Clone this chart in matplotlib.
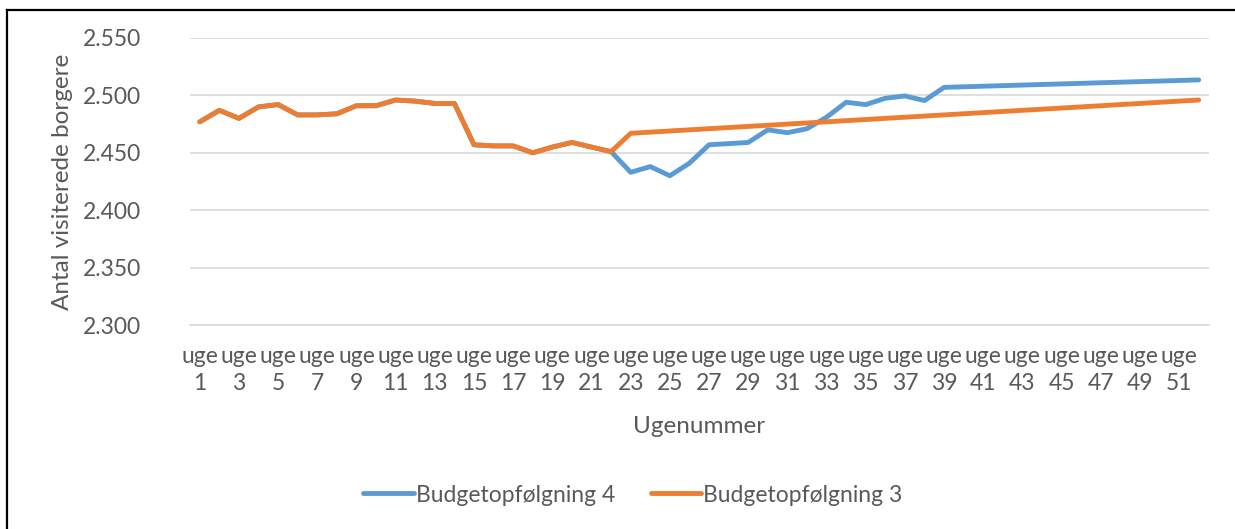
import matplotlib
matplotlib.use("Agg")
import matplotlib.pyplot as plt
from matplotlib.lines import Line2D

weeks = list(range(1, 53))

# Budgetopfølgning 3 (orange)
budget3 = [2.477, 2.487, 2.480, 2.490, 2.492, 2.483, 2.483, 2.484, 2.491, 2.491,
           2.496, 2.495, 2.493, 2.493, 2.457, 2.456, 2.456, 2.450, 2.455, 2.459,
           2.455, 2.451, 2.467, 2.468, 2.469, 2.470, 2.471, 2.472, 2.473, 2.474,
           2.475, 2.476, 2.477, 2.478, 2.479, 2.480, 2.481, 2.482, 2.483, 2.484,
           2.485, 2.486, 2.487, 2.488, 2.489, 2.490, 2.491, 2.492, 2.493, 2.494,
           2.495, 2.496]

# Budgetopfølgning 4 (blue)
budget4 = [2.477, 2.487, 2.480, 2.490, 2.492, 2.483, 2.483, 2.484, 2.491, 2.491,
           2.496, 2.495, 2.493, 2.493, 2.457, 2.456, 2.456, 2.450, 2.455, 2.459,
           2.455, 2.451, 2.433, 2.438, 2.430, 2.441, 2.457, 2.458, 2.459, 2.470,
           2.4675, 2.471, 2.481, 2.494, 2.492, 2.4975, 2.4995, 2.4955, 2.507, 2.5075,
           2.508, 2.5085, 2.509, 2.5095, 2.510, 2.5105, 2.511, 2.5115, 2.512, 2.5125,
           2.513, 2.5135]

tick_weeks = list(range(1, 53, 2))
tick_labels = [f"uge\n{w}" for w in tick_weeks]
y_ticks = [2.300, 2.350, 2.400, 2.450, 2.500, 2.550]
y_tick_labels = ["2.300", "2.350", "2.400", "2.450", "2.500", "2.550"]

plt.rcParams['font.family'] = ['Lato', 'DejaVu Sans']
text_color = "#595959"
blue = "#5B9BD5"
orange = "#ED7D31"

fig = plt.figure(figsize=(12.35, 5.29), dpi=100)
ax = fig.add_axes([190 / 1235, 1 - 325 / 529, (1208.5 - 190) / 1235, (325 - 38) / 529])

ax.plot(weeks, budget4, color=blue, lw=3.5, solid_capstyle='round', solid_joinstyle='round',
        label="Budgetopfølgning 4", zorder=3)
ax.plot(weeks, budget3, color=orange, lw=3.5, solid_capstyle='round', solid_joinstyle='round',
        label="Budgetopfølgning 3", zorder=4)

ax.set_xlim(0.5, 52.5)
ax.set_ylim(2.300, 2.550)
ax.set_yticks(y_ticks)
ax.set_yticklabels(y_tick_labels)
ax.set_xticks(tick_weeks)
ax.set_xticklabels(tick_labels, linespacing=1.35)
ax.grid(axis='y', color="#D9D9D9", lw=1.2)
ax.set_axisbelow(True)
for s in ["top", "right", "left"]:
    ax.spines[s].set_visible(False)
ax.spines["bottom"].set_color("#D9D9D9")
ax.spines["bottom"].set_linewidth(1.2)
ax.tick_params(axis='both', length=0, colors=text_color, labelsize=16.5)
ax.tick_params(axis='y', pad=35)
ax.tick_params(axis='x', pad=15)

ax.set_ylabel("Antal visiterede borgere", fontsize=17.5, color=text_color, labelpad=7)
ax.set_xlabel("Ugenummer", fontsize=17.5, color=text_color, labelpad=16)

handles = [Line2D([], [], color=blue, lw=3.5, solid_capstyle='round'),
           Line2D([], [], color=orange, lw=3.5, solid_capstyle='round')]
fig.legend(handles, ["Budgetopfølgning 4", "Budgetopfølgning 3"], loc='center',
           bbox_to_anchor=(633 / 1235, 1 - 495 / 529), ncol=2, frameon=False,
           fontsize=16.5, labelcolor=text_color, handlelength=2.2, handletextpad=0.1,
           columnspacing=1.55)

# outer border (top and left edges visible)
fig.add_artist(Line2D([7 / 1235, 7 / 1235], [0, 1 - 9.5 / 529], transform=fig.transFigure,
                      color="black", lw=1.6))
fig.add_artist(Line2D([7 / 1235, 1], [1 - 9.5 / 529, 1 - 9.5 / 529], transform=fig.transFigure,
                      color="black", lw=1.6))

fig.savefig("out.png", dpi=100)
